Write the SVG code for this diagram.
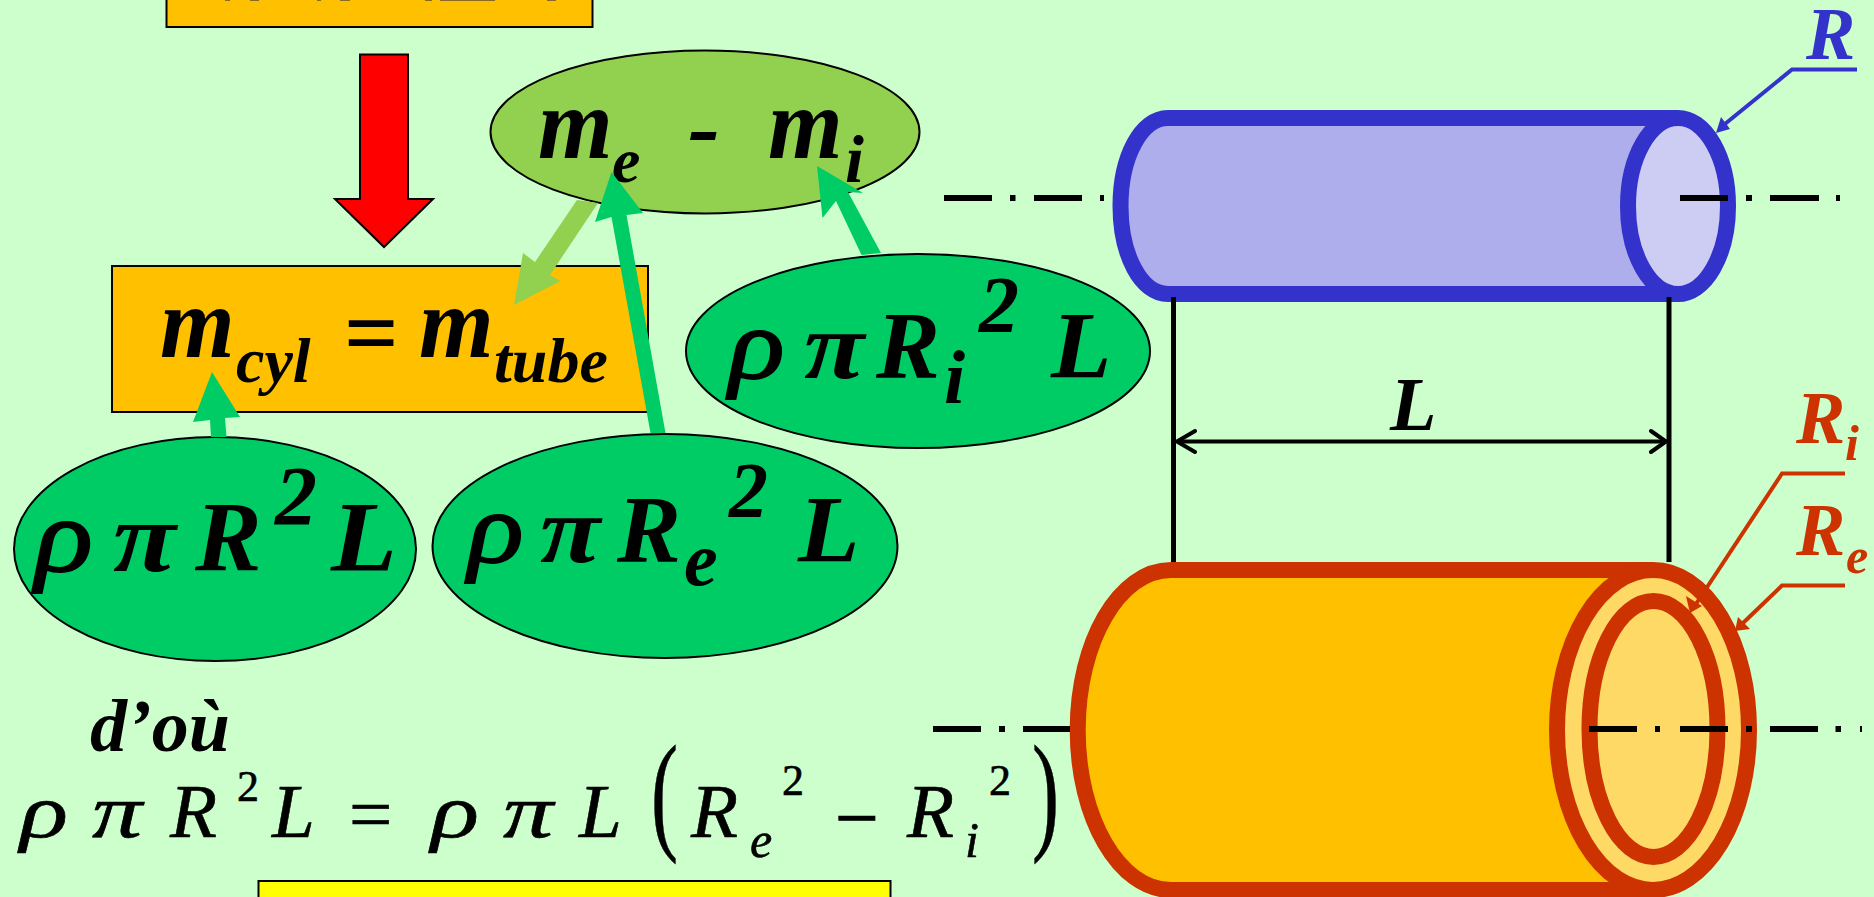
<svg xmlns="http://www.w3.org/2000/svg" width="1874" height="897" viewBox="0 0 1874 897">
<defs>
<style>
text{font-family:"Liberation Serif","Times New Roman",serif;font-style:italic}
.b{font-weight:bold;fill:#000}
.r{font-weight:normal;fill:#000;stroke:#000;stroke-width:.6}
.g{font-weight:normal;fill:#000;stroke:#000;stroke-width:1.8}
.u{font-style:normal}
.box{fill:#FFC000;stroke:#000;stroke-width:2}
.gr{fill:#00CC66;stroke:#000;stroke-width:2}
.dash{stroke:#000;stroke-width:6;fill:none}
.thin{stroke:#000;stroke-width:4;fill:none}
.blue{fill:none;stroke:#3333CC;stroke-width:16}
.red{fill:none;stroke:#CC3300;stroke-width:16}
.leadb{fill:none;stroke:#3333CC;stroke-width:4}
.leadr{fill:none;stroke:#CC3300;stroke-width:4}
</style>
</defs>
<rect width="1874" height="897" fill="#CCFFCC"/>

<g id="node-top-box">
<rect class="box" x="166.500" y="-10" width="426" height="37"/>
<path d="M225 0h5v1h-5zM250 0h9v1h-9zM317 0h4v1h-4zM340 0h10v1h-10zM425 0h7v1h-7zM440 0h55v1h-55zM547 0h9v1h-9z" fill="#8a6a20"/>
</g>
<g id="node-red-arrow">
<path d="M360 54.500H408V199H433L384 247L335 199H360Z" fill="#FF0000" stroke="#000" stroke-width="2"/>
</g>
<g id="node-mcyl">
<rect class="box" x="112" y="266" width="536" height="146"/>
</g>
<g id="node-diff">
<ellipse cx="705" cy="132" rx="214.500" ry="81.500" fill="#92D050" stroke="#000" stroke-width="2"/>
</g>
<g id="node-ri">
<ellipse class="gr" cx="918" cy="351" rx="232" ry="97"/>
</g>
<g id="node-r">
<ellipse class="gr" cx="215" cy="549" rx="201" ry="112"/>
</g>
<g id="node-re">
<ellipse class="gr" cx="665" cy="546" rx="232.500" ry="112"/>
</g>
<g id="node-yellow">
<rect x="258.500" y="881" width="632" height="30" fill="#FFFF00" stroke="#000" stroke-width="2"/>
</g>

<g id="labels-left">
<text class="b" font-size="96" transform="translate(538 158) scale(1 1.05)">m</text>
<text class="b" font-size="64" x="612" y="182">e</text>
<text class="b" font-size="96" x="688" y="158">-</text>
<text class="b" font-size="96" transform="translate(768 158) scale(1 1.05)">m</text>
<text class="b" font-size="68" x="845" y="182">i</text>

<text class="b" font-size="96" transform="translate(160 357) scale(1 1.05)">m</text>
<text class="b" font-size="64" x="236" y="382">cyl</text>
<text class="b u" font-size="96" x="344" y="365">=</text>
<text class="b" font-size="96" transform="translate(419 357) scale(1 1.05)">m</text>
<text class="b" font-size="64" x="494" y="382">tube</text>

<text class="g" font-size="102" transform="translate(35 571) scale(1.18 1.02)">ρ</text>
<text class="b" font-size="100" transform="translate(113 571) scale(1.15 1)">π</text>
<text class="b" font-size="100" x="195" y="570">R</text>
<text class="b" font-size="84" x="275" y="525">2</text>
<text class="b" font-size="100" transform="translate(331 570) scale(1.08 1)">L</text>

<text class="g" font-size="98" transform="translate(468 562) scale(1.18 1.02)">ρ</text>
<text class="b" font-size="96" transform="translate(540 562) scale(1.15 1)">π</text>
<text class="b" font-size="96" x="617" y="562">R</text>
<text class="b" font-size="76" x="684" y="585">e</text>
<text class="b" font-size="78" x="729" y="516">2</text>
<text class="b" font-size="96" transform="translate(798 562) scale(1.05 1)">L</text>

<text class="g" font-size="98" transform="translate(729 378) scale(1.18 1.02)">ρ</text>
<text class="b" font-size="96" transform="translate(804 378) scale(1.15 1)">π</text>
<text class="b" font-size="96" x="876" y="378">R</text>
<text class="b" font-size="76" x="944" y="403">i</text>
<text class="b" font-size="80" x="979" y="332">2</text>
<text class="b" font-size="96" transform="translate(1051 378) scale(1.03 1)">L</text>

<text class="b" font-size="74" x="90" y="751">d’où</text>

<text class="r" font-size="77" transform="translate(20 837) scale(1.3 1)">ρ</text>
<text class="r" font-size="77" transform="translate(92 837) scale(1.3 1)">π</text>
<text class="r" font-size="77" x="170" y="837">R</text>
<text class="r u" font-size="44" x="237" y="801">2</text>
<text class="r" font-size="77" x="272" y="837">L</text>
<text class="r u" font-size="77" x="349" y="840">=</text>
<text class="r" font-size="77" transform="translate(431 837) scale(1.3 1)">ρ</text>
<text class="r" font-size="77" transform="translate(503 837) scale(1.3 1)">π</text>
<text class="r" font-size="77" x="579" y="837">L</text>
<text class="r u" font-size="131" transform="translate(651 836) scale(.62 1)">(</text>
<text class="r" font-size="77" x="691" y="837">R</text>
<text class="r" font-size="50" x="750" y="857">e</text>
<text class="r u" font-size="44" x="782" y="795">2</text>
<text class="r u" font-size="77" x="835" y="844" style="stroke-width:1.2">−</text>
<text class="r" font-size="77" x="907" y="837">R</text>
<text class="r" font-size="50" x="965" y="857">i</text>
<text class="r u" font-size="44" x="989" y="795">2</text>
<text class="r u" font-size="131" transform="translate(1032 836) scale(.62 1)">)</text>
</g>

<g id="connectors">
<path d="M577 200L598 203L550 275L560.500 281L514 305L523 253L535 262Z" fill="#92D050"/>
<path d="M650.500 433L665.500 433L626.500 215L643 213L611.500 172L595 222L611.500 217Z" fill="#00CC66"/>
<path d="M861.500 255L881 253L848 192L863 193L817 166L822.500 218L836 201Z" fill="#00CC66"/>
<path d="M211 437L226.500 437L225 418L240 417L212 372L193 422L210 420Z" fill="#00CC66"/>
</g>

<g id="cylinder-blue">
<path d="M1168 118H1678V294H1168C1141 294 1120.500 255 1120.500 206S1141 118 1168 118Z" fill="#AEAEEC"/>
<path class="blue" d="M1678 118H1168C1141 118 1120.500 157 1120.500 206S1141 294 1168 294H1678"/>
<ellipse class="blue" cx="1678" cy="206" rx="50" ry="88" style="fill:#CDCDF3"/>
</g>
<g id="axis-blue">
<path class="dash" d="M944 198H992M1010 198H1015.500M1034 198H1082M1100 198H1104M1680 198H1728M1746 198H1752M1770 198H1819M1836 198H1840"/>
</g>
<g id="dimension-L">
<path class="thin" d="M1177 441.500H1666"/>
<path d="M1173.500 297V562M1669 297V562" fill="none" stroke="#000" stroke-width="5"/>
<path d="M1195 431L1177 441.500L1195 452M1651 431L1666 441.500L1651 452" fill="none" stroke="#000" stroke-width="4" stroke-linecap="round"/>
<text class="b" font-size="76" x="1390" y="430">L</text>
</g>
<g id="label-R">
<text font-weight="bold" fill="#3333CC" font-size="74" x="1806" y="59">R</text>
<path class="leadb" d="M1857 69.500H1792L1720 128"/>
<path d="M1716 133L1721 117L1730 129Z" fill="#3333CC"/>
</g>

<g id="cylinder-orange">
<path d="M1171 570H1653V890H1171C1119 890 1077.700 818 1077.700 730S1119 570 1171 570Z" fill="#FFC000"/>
<path class="red" d="M1653 570H1171C1119 570 1077.700 642 1077.700 730S1119 890 1171 890H1653"/>
<ellipse class="red" cx="1653" cy="730" rx="96" ry="160" style="fill:#FFD966"/>
<ellipse class="red" cx="1653.500" cy="729" rx="64" ry="128"/>
</g>
<g id="axis-orange">
<path class="dash" d="M933 729H981M999 729H1005M1023 729H1070M1589 729H1637M1655 729H1660M1680 729H1728M1746 729H1752M1770 729H1818M1835.500 729H1841M1860 729H1862"/>
</g>
<g id="label-Re-Ri">
<text font-weight="bold" fill="#CC3300" font-size="74" x="1796" y="443">R</text>
<text font-weight="bold" fill="#CC3300" font-size="50" x="1845" y="460">i</text>
<text font-weight="bold" fill="#CC3300" font-size="74" x="1796" y="555">R</text>
<text font-weight="bold" fill="#CC3300" font-size="50" x="1846" y="573">e</text>
<path class="leadr" d="M1845 473.500H1782L1696 604"/>
<path d="M1690 613L1686 596L1702 606Z" fill="#CC3300"/>
<path class="leadr" d="M1845 585.500H1782L1742 624"/>
<path d="M1735 631L1738 617L1750 629Z" fill="#CC3300"/>
</g>
</svg>
